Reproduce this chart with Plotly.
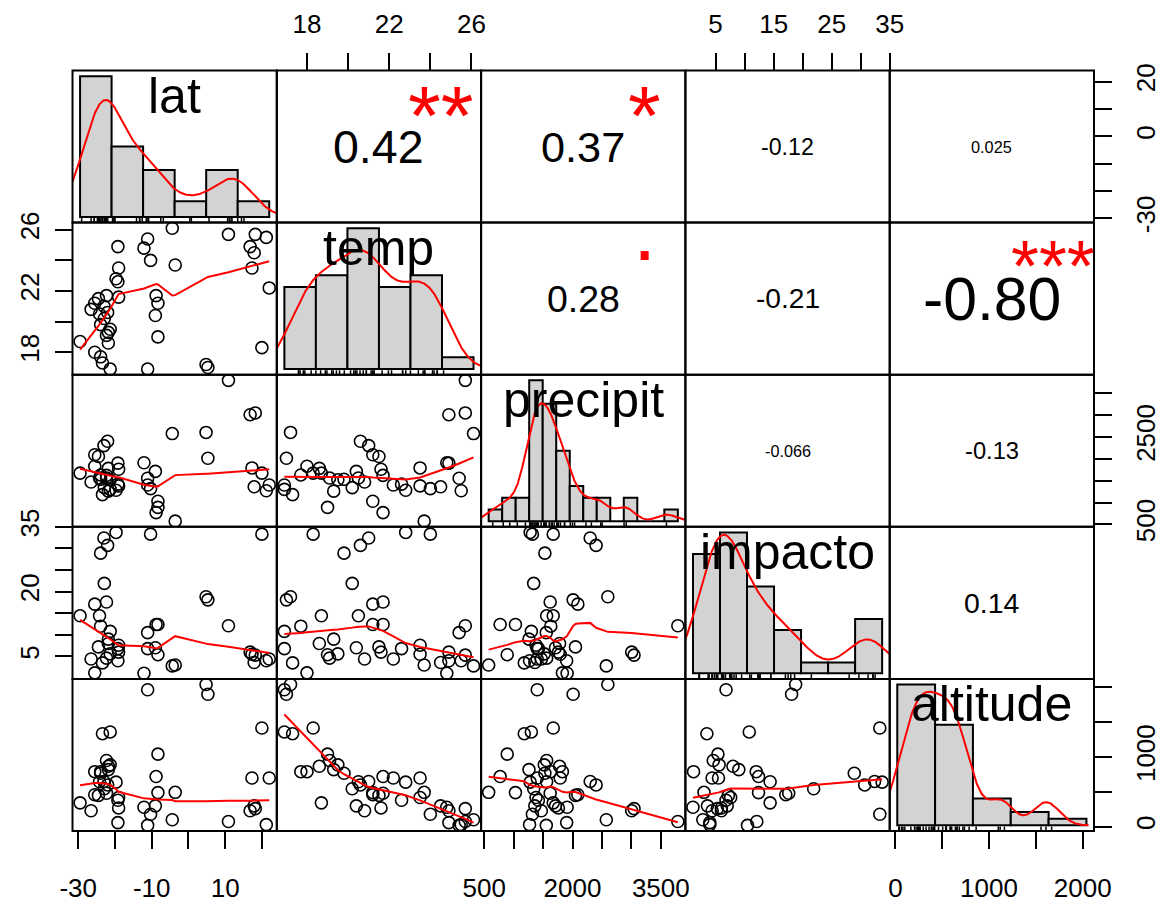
import numpy as np
import plotly.graph_objects as go

# ---------------- data ----------------
var_names = ["lat", "temp", "precipit", "impacto", "altitude"]

lat = [-4.4, 10.9, 18.2, 21.2, -11.1, -19.2, -12.1, 16.8, 17.9, -10.3,
       -3.6, 17.3, -19.0, -19.7, -19.2, 22.0, -22.3, -8.8, -19.0, -8.3,
       -25.5, -26.5, -24.2, -22.9, -23.9, -21.3, -22.3, -29.5, -8.3, -21.8,
       20.0, -25.5, -23.9, -23.4, -21.3, -11.1, 4.8, 5.3, -23.0, -22.0,
       -24.5, -21.8, -9.0]
temp = [26.1, 25.7, 25.7, 25.5, 25.4, 24.9, 24.8, 24.9, 24.5, 24.0,
        23.7, 23.5, 23.5, 22.8, 22.6, 22.2, 21.7, 21.7, 21.6, 21.2,
        21.2, 20.8, 20.5, 20.2, 19.8, 19.5, 19.1, 18.7, 19.0, 18.6,
        18.3, 18.0, 17.7, 17.3, 16.9, 16.9, 17.2, 17.0, 21.0, 20.6,
        21.5, 19.3, 20.4]
precipit = [2574, 3789, 3045, 1270, 1554, 1900, 1908, 3005, 1359, 1318,
            575, 1790, 1380, 1280, 1420, 1400, 1620, 770, 1760, 1030,
            2090, 1470, 1560, 1340, 1530, 1520, 1560, 1672, 890, 1780,
            1672, 1828, 1630, 1180, 1300, 1400, 2600, 2010, 2300, 2400,
            2050, 1260, 1711]
impacto = [2.8, 12.1, 5.3, 4.0, 10.5, 4.0, 1.1, 6.0, 3.6, 33.3,
           3.0, 5.5, 7.6, 33.7, 6.8, 4.4, 17.6, 12.4, 6.0, 12.4,
           17.1, 4.4, 14.4, 21.9, 28.9, 5.6, 4.6, 14.4, 5.4, 8.0,
           33.3, 1.2, 12.0, 3.5, 10.8, 6.8, 18.8, 18.1, 32.4, 30.7,
           7.2, 9.0, 7.0]
altitude = [100, 75, 260, 30, 20, 60, 280, 230, 300, 180,
            494, 700, 420, 640, 380, 700, 480, 720, 270, 490,
            460, 230, 646, 545, 768, 888, 950, 343, 1042, 867,
            1416, 790, 790, 1335, 1360, 1965, 2040, 1900, 650, 600,
            450, 820, 300]

# histogram breaks (start, stop, step) as seen in the diagonal panels
hist_breaks = {
    "lat": (-30, 30, 10),
    "temp": (16, 28, 2),
    "precipit": (500, 4000, 250),
    "impacto": (0, 35, 5),
    "altitude": (0, 2500, 500),
}

# correlation labels shown in the upper panels: (row, col, text, r, stars)
cor_labels = [
    (0, 1, "0.42", 0.42, "**"),
    (0, 2, "0.37", 0.37, "*"),
    (0, 3, "-0.12", -0.12, ""),
    (0, 4, "0.025", 0.025, ""),
    (1, 2, "0.28", 0.28, "."),
    (1, 3, "-0.21", -0.21, ""),
    (1, 4, "-0.80", -0.80, "***"),
    (2, 3, "-0.066", -0.066, ""),
    (2, 4, "-0.13", -0.13, ""),
    (3, 4, "0.14", 0.14, ""),
]

# axis ticks and labels
tick_vals = {
    "lat": [-30, -20, -10, 0, 10, 20],
    "temp": [18, 20, 22, 24, 26],
    "precipit": [500, 1000, 1500, 2000, 2500, 3000, 3500],
    "impacto": [5, 10, 15, 20, 25, 30, 35],
    "altitude": [0, 500, 1000, 1500, 2000],
}
tick_text_x = {
    "lat": ["-30", "", "-10", "", "10", ""],
    "temp": ["18", "", "22", "", "26"],
    "precipit": ["500", "", "", "2000", "", "", "3500"],
    "impacto": ["5", "", "15", "", "25", "", "35"],
    "altitude": ["0", "", "1000", "", "2000"],
}
tick_text_y = {
    "lat": ["-30", "", "", "0", "", "20"],
    "temp": ["18", "", "22", "", "26"],
    "precipit": ["500", "", "", "", "2500", "", ""],
    "impacto": ["5", "", "", "20", "", "", "35"],
    "altitude": ["0", "", "1000", "", ""],
}

data = {"lat": lat, "temp": temp, "precipit": precipit,
        "impacto": impacto, "altitude": altitude}

# ---------------- helpers ----------------
def lowess(x, y, f=2/3, iters=3):
    x = np.asarray(x, float)
    y = np.asarray(y, float)
    o = np.argsort(x, kind="mergesort")
    x = x[o]; y = y[o]
    n = len(x)
    ns = max(min(int(f * n + 1e-7), n), 2)
    rng = x[-1] - x[0]
    delta = 0.01 * rng
    rw = np.ones(n)
    ys = np.zeros(n)

    def lowest(xs, nleft, nright, userw):
        h = max(xs - x[nleft], x[nright] - xs)
        h9 = 0.999 * h
        h1 = 0.001 * h
        w = np.zeros(n)
        a = 0.0
        j = nleft
        while j < n:
            r = abs(x[j] - xs)
            if r <= h9:
                if r <= h1:
                    w[j] = 1.0
                else:
                    w[j] = (1 - (r / h) ** 3) ** 3
                if userw:
                    w[j] *= rw[j]
                a += w[j]
            elif x[j] > xs:
                break
            j += 1
        nrt = j - 1
        if a <= 0:
            return 0.0, False
        sl = slice(nleft, nrt + 1)
        w[sl] /= a
        if h > 0:
            a2 = np.sum(w[sl] * x[sl])
            b = xs - a2
            c = np.sum(w[sl] * (x[sl] - a2) ** 2)
            if np.sqrt(c) > 0.001 * rng:
                b /= c
                w[sl] = w[sl] * (b * (x[sl] - a2) + 1)
        return float(np.sum(w[sl] * y[sl])), True

    for it in range(iters + 1):
        nleft, nright = 0, ns - 1
        last = -1
        i = 0
        while True:
            if nright < n - 1:
                d1 = x[i] - x[nleft]
                d2 = x[nright + 1] - x[i]
                if d1 > d2:
                    nleft += 1
                    nright += 1
                    continue
            v, ok = lowest(x[i], nleft, nright, it > 0)
            ys[i] = v if ok else y[i]
            if last < i - 1:
                denom = x[i] - x[last]
                for j in range(last + 1, i):
                    alpha = (x[j] - x[last]) / denom
                    ys[j] = alpha * ys[i] + (1 - alpha) * ys[last]
            last = i
            cut = x[last] + delta
            i = last + 1
            while i < n:
                if x[i] > cut:
                    break
                if x[i] == x[last]:
                    ys[i] = ys[last]
                    last = i
                i += 1
            i = max(last + 1, i - 1)
            if last >= n - 1:
                break
        res = y - ys
        if it >= iters:
            break
        sc = np.mean(np.abs(res))
        cmad = 6 * np.median(np.abs(res))
        if cmad < 1e-7 * sc:
            break
        c9, c1 = 0.999 * cmad, 0.001 * cmad
        r = np.abs(res)
        rw = np.where(r <= c1, 1.0, np.where(r <= c9, (1 - (r / cmad) ** 2) ** 2, 0.0))
    return x, ys


def density(x, npts=512):
    x = np.asarray(x, float)
    nn = len(x)
    sd = np.std(x, ddof=1)
    q75, q25 = np.percentile(x, [75, 25])
    lo = min(sd, (q75 - q25) / 1.34)
    bw = 0.9 * lo * nn ** (-0.2)
    grid = np.linspace(x.min() - 3 * bw, x.max() + 3 * bw, npts)
    d = np.exp(-0.5 * ((grid[:, None] - x[None, :]) / bw) ** 2).sum(1) / (nn * bw * np.sqrt(2 * np.pi))
    return grid, d


def ext_range(v):
    v = np.asarray(v, float)
    lo, hi = v.min(), v.max()
    e = 0.04 * (hi - lo)
    return [lo - e, hi + e]


def str_em(s):
    w = {"-": 0.333, ".": 0.278, "*": 0.389}
    return sum(w.get(ch, 0.556) for ch in s)

# ---------------- geometry ----------------
OFF = 8                      # page body margin of the browser
FW, FH = 1171 - OFF, 903 - OFF
X0, PW = 72.5 - OFF, 204.3
Y0, PH = 70.5 - OFF, 152.1
NV = len(var_names)


def xdom(j):
    return [(X0 + j * PW) / FW, (X0 + (j + 1) * PW) / FW]


def ydom(i):
    return [1 - (Y0 + (i + 1) * PH) / FH, 1 - (Y0 + i * PH) / FH]


def ref(letter, k):
    return letter if k == 1 else f"{letter}{k}"


def axkey(letter, k):
    return f"{letter}axis" if k == 1 else f"{letter}axis{k}"

FONT = "Liberation Sans, Arial, sans-serif"
TICKFONT = dict(family=FONT, size=26, color="black")

fig = go.Figure()
layout = dict(width=FW, height=FH, margin=dict(l=0, r=0, t=0, b=0, pad=0, autoexpand=False),
              paper_bgcolor="white", plot_bgcolor="white", showlegend=False,
              autosize=False)
annotations = []
shapes = []

ranges = {v: ext_range(data[v]) for v in var_names}

for i in range(NV):
    for j in range(NV):
        k = i * NV + j + 1
        vx, vy = var_names[j], var_names[i]
        xa = dict(domain=xdom(j), anchor=ref("y", k), range=ranges[vx],
                  showgrid=False, zeroline=False, showline=False,
                  ticks="", showticklabels=False,
                  fixedrange=True, automargin=False)
        ya = dict(domain=ydom(i), anchor=ref("x", k), range=ranges[vy],
                  showgrid=False, zeroline=False, showline=False,
                  ticks="", showticklabels=False,
                  fixedrange=True, automargin=False)
        # outer axes (R pairs alternates sides)
        if i == NV - 1 and j % 2 == 0:
            xa.update(side="bottom", ticks="outside", ticklen=17, tickwidth=2,
                      tickcolor="black", showticklabels=True, tickvals=tick_vals[vx],
                      ticktext=tick_text_x[vx], tickfont=TICKFONT, tickangle=0,
                      ticklabelstandoff=17)
        if i == 0 and j % 2 == 1:
            xa.update(side="top", ticks="outside", ticklen=17, tickwidth=2,
                      tickcolor="black", showticklabels=True, tickvals=tick_vals[vx],
                      ticktext=tick_text_x[vx], tickfont=TICKFONT, tickangle=0,
                      ticklabelstandoff=9)
        if j == 0 and i % 2 == 1:
            ya.update(side="left", ticks="outside", ticklen=17, tickwidth=2,
                      tickcolor="black", showticklabels=True, tickvals=tick_vals[vy],
                      ticktext=tick_text_y[vy], tickfont=TICKFONT, tickangle=-90,
                      ticklabelstandoff=5)
        if j == NV - 1 and i % 2 == 0:
            ya.update(side="right", ticks="outside", ticklen=17, tickwidth=2,
                      tickcolor="black", showticklabels=True, tickvals=tick_vals[vy],
                      ticktext=tick_text_y[vy], tickfont=TICKFONT, tickangle=-90,
                      ticklabelstandoff=12)
        layout[axkey("x", k)] = xa
        layout[axkey("y", k)] = ya

        # panel frame
        shapes.append(dict(type="rect", xref=ref("x", k) + " domain", yref=ref("y", k) + " domain",
                           x0=0, x1=1, y0=0, y1=1, line=dict(color="black", width=2),
                           fillcolor="rgba(0,0,0,0)", layer="above"))

        if i > j:
            # lower: scatter + lowess
            fig.add_trace(go.Scatter(
                x=data[vx], y=data[vy], mode="markers",
                marker=dict(symbol="circle-open", size=12, color="black",
                            line=dict(width=1.6, color="black")),
                xaxis=ref("x", k), yaxis=ref("y", k), hoverinfo="skip"))
            sx, sy = lowess(data[vx], data[vy])
            fig.add_trace(go.Scatter(
                x=sx, y=sy, mode="lines", line=dict(color="red", width=2),
                xaxis=ref("x", k), yaxis=ref("y", k), hoverinfo="skip"))
        else:
            # upper and diagonal frames: empty subplot
            fig.add_trace(go.Scatter(x=[], y=[], mode="markers",
                                     xaxis=ref("x", k), yaxis=ref("y", k),
                                     hoverinfo="skip"))

# upper panels: correlation text
for (i, j, txt, r, stars) in cor_labels:
    k = i * NV + j + 1
    star_fs = 0.8 * PW / str_em(txt)
    txt_fs = star_fs * (abs(r) + 0.3) / 1.3
    annotations.append(dict(
        text=txt, x=0.5, y=0.5, xref=ref("x", k) + " domain", yref=ref("y", k) + " domain",
        showarrow=False, xanchor="center", yanchor="middle",
        font=dict(family=FONT, size=txt_fs, color="black")))
    if stars:
        shift = -0.18 * star_fs if stars != "." else 0.26 * star_fs
        annotations.append(dict(
            text=stars, x=0.8, y=0.8, xref=ref("x", k) + " domain", yref=ref("y", k) + " domain",
            showarrow=False, xanchor="center", yanchor="middle", yshift=shift,
            font=dict(family=FONT, size=star_fs, color="red")))

# diagonal: histogram + density + rug + label
for d, v in enumerate(var_names):
    kb = d * NV + d + 1
    kh = NV * NV + 1 + d
    b0, b1, st = hist_breaks[v]
    breaks = np.arange(b0, b1 + st / 2, st)
    vals = np.asarray(data[v], float)
    idx = np.searchsorted(breaks, vals, side="left")  # right-closed bins
    idx = np.clip(idx, 1, len(breaks) - 1) - 1
    counts = np.bincount(idx, minlength=len(breaks) - 1)
    dens = counts / (len(vals) * st)
    centers = (breaks[:-1] + breaks[1:]) / 2
    ymax = dens.max()
    hx = [breaks[0] - 0.04 * (breaks[-1] - breaks[0]), breaks[-1] + 0.04 * (breaks[-1] - breaks[0])]
    hy = [-0.04 * ymax, 1.04 * ymax]
    layout[axkey("x", kh)] = dict(domain=xdom(d), anchor=ref("y", kh), range=hx,
                                  visible=False, fixedrange=True, automargin=False)
    layout[axkey("y", kh)] = dict(domain=ydom(d), anchor=ref("x", kh), range=hy,
                                  visible=False, fixedrange=True, automargin=False)
    fig.add_trace(go.Bar(x=centers, y=dens, width=st,
                         marker=dict(color="#D3D3D3", line=dict(color="black", width=2)),
                         xaxis=ref("x", kh), yaxis=ref("y", kh), hoverinfo="skip"))
    gx, gy = density(vals)
    fig.add_trace(go.Scatter(x=gx, y=gy, mode="lines", line=dict(color="red", width=2),
                             xaxis=ref("x", kh), yaxis=ref("y", kh), hoverinfo="skip"))
    rug_x, rug_y = [], []
    y_bot = hy[0]
    y_top = hy[0] + 0.03 * (hy[1] - hy[0])
    for xv in vals:
        rug_x += [xv, xv, None]
        rug_y += [y_bot, y_top, None]
    fig.add_trace(go.Scatter(x=rug_x, y=rug_y, mode="lines",
                             line=dict(color="black", width=1.5),
                             xaxis=ref("x", kh), yaxis=ref("y", kh), hoverinfo="skip"))
    annotations.append(dict(
        text=v, x=0.5, y=0.833, xref=ref("x", kb) + " domain", yref=ref("y", kb) + " domain",
        showarrow=False, xanchor="center", yanchor="middle",
        font=dict(family=FONT, size=50, color="black")))

layout["annotations"] = annotations
layout["shapes"] = shapes
layout["barmode"] = "overlay"
fig.update_layout(**layout)
fig.write_html("out.html")
